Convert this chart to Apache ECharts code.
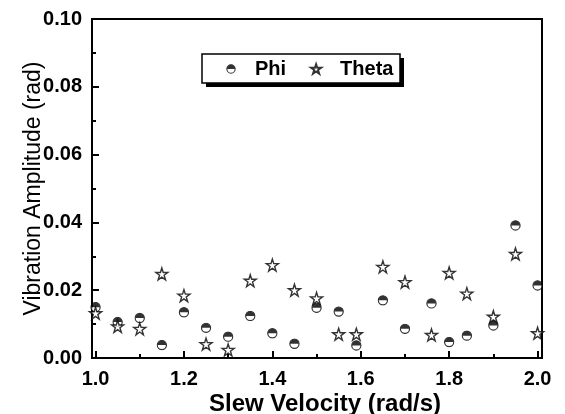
<!DOCTYPE html>
<html>
<head>
<meta charset="utf-8">
<script src="https://cdn.jsdelivr.net/npm/echarts@6/dist/echarts.min.js"></script>
<style>
html,body{margin:0;padding:0;background:#fff;}
#chart{width:565px;height:414px;}
</style>
</head>
<body>
<div id="chart"></div>
<script>
// Slew velocity positions (rad/s)
var velocity = [1.00, 1.05, 1.10, 1.15, 1.20, 1.25, 1.30, 1.35, 1.40, 1.45, 1.50, 1.55, 1.59, 1.65, 1.70, 1.76, 1.80, 1.84, 1.90, 1.95, 2.00];
// Vibration amplitude (rad)
var phi   = [0.0150, 0.0106, 0.0118, 0.0038, 0.0135, 0.0089, 0.0063, 0.0124, 0.0073, 0.0042, 0.0148, 0.0137, 0.0037, 0.0170, 0.0086, 0.0161, 0.0047, 0.0066, 0.0096, 0.0391, 0.0214];
var theta = [0.0132, 0.0093, 0.0086, 0.0248, 0.0184, 0.0041, 0.0024, 0.0228, 0.0274, 0.0200, 0.0176, 0.0070, 0.0070, 0.0269, 0.0224, 0.0068, 0.0251, 0.0190, 0.0122, 0.0307, 0.0073];
// Tick values
var xMajorTicks = [1.0, 1.2, 1.4, 1.6, 1.8, 2.0];
var xMinorTicks = [1.1, 1.3, 1.5, 1.7, 1.9];
var yTicks = [0.00, 0.02, 0.04, 0.06, 0.08, 0.10];

function pairs(xs, ys) { return xs.map(function (x, i) { return [x, ys[i]]; }); }

var halfCircleSvg = "<svg xmlns='http://www.w3.org/2000/svg' width='24' height='24' viewBox='0 0 24 24'>" +
  "<circle cx='12' cy='12' r='10' fill='white' stroke='black' stroke-width='2.6'/>" +
  "<path d='M2 12 A10 10 0 0 1 22 12 Z' fill='black'/></svg>";
var halfCircle = 'image://data:image/svg+xml;charset=utf-8,' + encodeURIComponent(halfCircleSvg);
var starPath = 'path://M50,2 L61,36 L97,36 L68,57 L79,92 L50,71 L21,92 L32,57 L3,36 L39,36 Z';

var font = '"Liberation Sans", Arial, Helvetica, sans-serif';
var chart = echarts.init(document.getElementById('chart'), null, {renderer: 'canvas'});
chart.setOption({
  backgroundColor: '#fff',
  animation: false,
  grid: {left: 92, right: 23, top: 19, bottom: 56, containLabel: false, outerBoundsMode: 'none',
    show: true, borderColor: '#000', borderWidth: 2, backgroundColor: 'transparent'},
  graphic: [
    {type: 'rect', z: 5, shape: {x: 206, y: 58, width: 198, height: 29}, style: {fill: '#000'}},
    {type: 'rect', z: 6, shape: {x: 202, y: 54, width: 198, height: 29}, style: {fill: '#fff', stroke: '#000', lineWidth: 1.5}}
  ],
  legend: {
    left: 202, top: 54, z: 10,
    data: ['Phi', 'Theta'],
    itemWidth: 10, itemHeight: 10, itemGap: 24,
    padding: [5, 12, 4, 24],
    textStyle: {fontFamily: font, fontSize: 20, fontWeight: 'bold', color: '#000', padding: [0, 0, 0, 14]}
  },
  xAxis: [{
    type: 'value', min: 0.992, max: 2.010,
    name: 'Slew Velocity (rad/s)', nameLocation: 'middle', nameGap: 34, nameMoveOverlap: false,
    nameTextStyle: {fontFamily: font, fontSize: 24, fontWeight: 'bold', color: '#000', padding: [0, 0, 0, 16]},
    axisLine: {show: true, lineStyle: {color: '#000', width: 2}},
    axisTick: {show: true, inside: true, length: 7, lineStyle: {color: '#000', width: 2}, customValues: xMajorTicks},
    axisLabel: {show: true, margin: 11, fontFamily: font, fontSize: 20, fontWeight: 'bold', color: '#000',
      customValues: xMajorTicks, formatter: function (v) { return v.toFixed(1); }},
    splitLine: {show: false}
  }, {
    type: 'value', min: 0.992, max: 2.010, position: 'bottom',
    axisLine: {show: false},
    axisTick: {show: true, inside: true, length: 4, lineStyle: {color: '#000', width: 2}, customValues: xMinorTicks},
    axisLabel: {show: false},
    splitLine: {show: false}
  }],
  yAxis: {
    type: 'value', min: 0, max: 0.10, interval: 0.02,
    name: 'Vibration Amplitude (rad)', nameLocation: 'middle', nameGap: 47, nameMoveOverlap: false,
    nameTextStyle: {fontFamily: font, fontSize: 23, fontWeight: 'normal', color: '#000'},
    axisLine: {show: true, lineStyle: {color: '#000', width: 2}},
    axisTick: {show: true, inside: true, length: 7, lineStyle: {color: '#000', width: 2}},
    minorTick: {show: true, splitNumber: 2, length: 4, lineStyle: {color: '#000', width: 2}},
    axisLabel: {margin: 10, fontFamily: font, fontSize: 20, fontWeight: 'bold', color: '#000',
      customValues: yTicks, formatter: function (v) { return v.toFixed(2); }},
    splitLine: {show: false}
  },
  series: [{
    name: 'Phi', type: 'scatter', symbol: halfCircle, symbolSize: 11,
    data: pairs(velocity, phi), z: 3
  }, {
    name: 'Theta', type: 'scatter', symbol: starPath, symbolSize: 12,
    itemStyle: {color: '#fff', borderColor: '#000', borderWidth: 1.4},
    data: pairs(velocity, theta), z: 4
  }]
});
</script>
</body>
</html>
